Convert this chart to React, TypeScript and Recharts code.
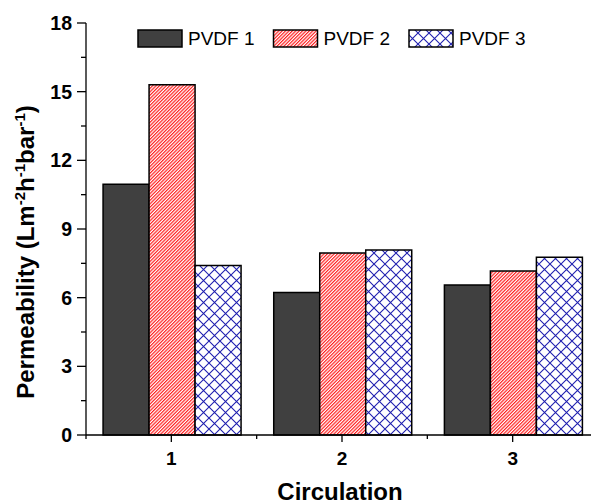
import { Bar, BarChart, XAxis, YAxis } from "recharts";

const categories = ["1", "2", "3"];
const seriesNames = ["PVDF 1", "PVDF 2", "PVDF 3"];
const pvdf1 = [10.95, 6.23, 6.55];
const pvdf2 = [15.3, 7.95, 7.16];
const pvdf3 = [7.4, 8.08, 7.77];
const yTicks = [0, 1.5, 3, 4.5, 6, 7.5, 9, 10.5, 12, 13.5, 15, 16.5, 18];

const data = categories.map((c, i) => ({
  circ: c,
  p1: pvdf1[i],
  p2: pvdf2[i],
  p3: pvdf3[i],
}));

const fills = ["#404040", "url(#redHatch)", "url(#blueCross)"];

const FONT = "'Liberation Sans', Arial, sans-serif";
const W = 600;
const H = 504;
const LEFT = 86;
const RIGHT_M = 2;
const TOP = 23;
const BOTTOM = 435;
const BAND = (W - RIGHT_M - LEFT) / categories.length;

function YTick(props: any) {
  const { y, payload } = props;
  const v = payload.value as number;
  const major = Math.abs(v % 3) < 0.01;
  return (
    <g>
      <line x1={LEFT - (major ? 9 : 5)} x2={LEFT} y1={y} y2={y} stroke="#000" strokeWidth={1.3} />
      {major && (
        <text x={72} y={y + 7} textAnchor="end" fontFamily={FONT} fontWeight="bold" fontSize={19.5} fill="#000">
          {v}
        </text>
      )}
    </g>
  );
}

function XTick(props: any) {
  const { x, payload, index } = props;
  return (
    <g>
      <line x1={x} x2={x} y1={BOTTOM} y2={BOTTOM + 7} stroke="#000" strokeWidth={1.3} />
      <line x1={x + BAND / 2} x2={x + BAND / 2} y1={BOTTOM} y2={BOTTOM + 4} stroke="#000" strokeWidth={1.3} />
      {index === 0 && (
        <line x1={x - BAND / 2} x2={x - BAND / 2} y1={BOTTOM} y2={BOTTOM + 4} stroke="#000" strokeWidth={1.3} />
      )}
      <text x={x} y={465} textAnchor="middle" fontFamily={FONT} fontWeight="bold" fontSize={19} fill="#000">
        {payload.value}
      </text>
    </g>
  );
}

function YLabel() {
  const cx = 34;
  const cy = 252;
  return (
    <text
      x={cx}
      y={cy}
      transform={`rotate(-90, ${cx}, ${cy})`}
      textAnchor="middle"
      fontFamily={FONT}
      fontWeight="bold"
      fontSize={24}
      fill="#000"
    >
      Permeability (Lm
      <tspan dy={-9} fontSize={15}>-2</tspan>
      <tspan dy={9}>h</tspan>
      <tspan dy={-9} fontSize={15}>-1</tspan>
      <tspan dy={9}>bar</tspan>
      <tspan dy={-9} fontSize={15}>-1</tspan>
      <tspan dy={9}>)</tspan>
    </text>
  );
}

function XLabel() {
  return (
    <text x={LEFT + (W - RIGHT_M - LEFT) / 2 - 2} y={500} textAnchor="middle" fontFamily={FONT} fontWeight="bold" fontSize={24} fill="#000">
      Circulation
    </text>
  );
}

function LegendOverlay() {
  return (
    <svg width={W} height={60} style={{ position: "absolute", left: 0, top: 0, display: "block" }}>
      {seriesNames.map((name, i) => {
        const x = 138 + i * 135.5;
        return (
          <g key={name}>
            <rect x={x} y={30} width={44} height={17} fill={fills[i]} stroke="#000" strokeWidth={1.5} />
            <text x={x + 50} y={44.5} fontFamily={FONT} fontSize={19} fill="#000">
              {name}
            </text>
          </g>
        );
      })}
    </svg>
  );
}

export default function App() {
  return (
    <div style={{ position: "absolute", left: 0, top: 0, width: 591, height: 504, overflow: "hidden", background: "#fff" }}>
      <BarChart
        width={W}
        height={H}
        data={data}
        margin={{ top: TOP, right: RIGHT_M, left: 0, bottom: 0 }}
        barCategoryGap="10%"
        barGap={0}
      >
        <defs>
          <pattern id="redHatch" patternUnits="userSpaceOnUse" width={2.4} height={2.4} patternTransform="rotate(45)">
            <rect width={2.4} height={2.4} fill="#fff" />
            <line x1={0.6} y1={0} x2={0.6} y2={2.4} stroke="#ff1f1f" strokeWidth={1.2} />
          </pattern>
          <pattern id="blueCross" patternUnits="userSpaceOnUse" width={11} height={11}>
            <rect width={11} height={11} fill="#fff" />
            <path d="M0,0 L11,11 M0,11 L11,0" stroke="#1f1fb0" strokeWidth={1.1} />
          </pattern>
        </defs>
        <XAxis
          dataKey="circ"
          height={H - BOTTOM}
          axisLine={{ stroke: "#000", strokeWidth: 1.3 }}
          tickLine={false}
          tick={<XTick />}
          interval={0}
          label={<XLabel />}
        />
        <YAxis
          width={LEFT}
          domain={[0, 18]}
          ticks={yTicks}
          interval={0}
          axisLine={{ stroke: "#000", strokeWidth: 1.3 }}
          tickLine={false}
          tick={<YTick />}
          label={<YLabel />}
        />
        <Bar dataKey="p1" name={seriesNames[0]} fill={fills[0]} stroke="#000" strokeWidth={1.5} isAnimationActive={false} />
        <Bar dataKey="p2" name={seriesNames[1]} fill={fills[1]} stroke="#000" strokeWidth={1.5} isAnimationActive={false} />
        <Bar dataKey="p3" name={seriesNames[2]} fill={fills[2]} stroke="#000" strokeWidth={1.5} isAnimationActive={false} />
      </BarChart>
      <LegendOverlay />
    </div>
  );
}
